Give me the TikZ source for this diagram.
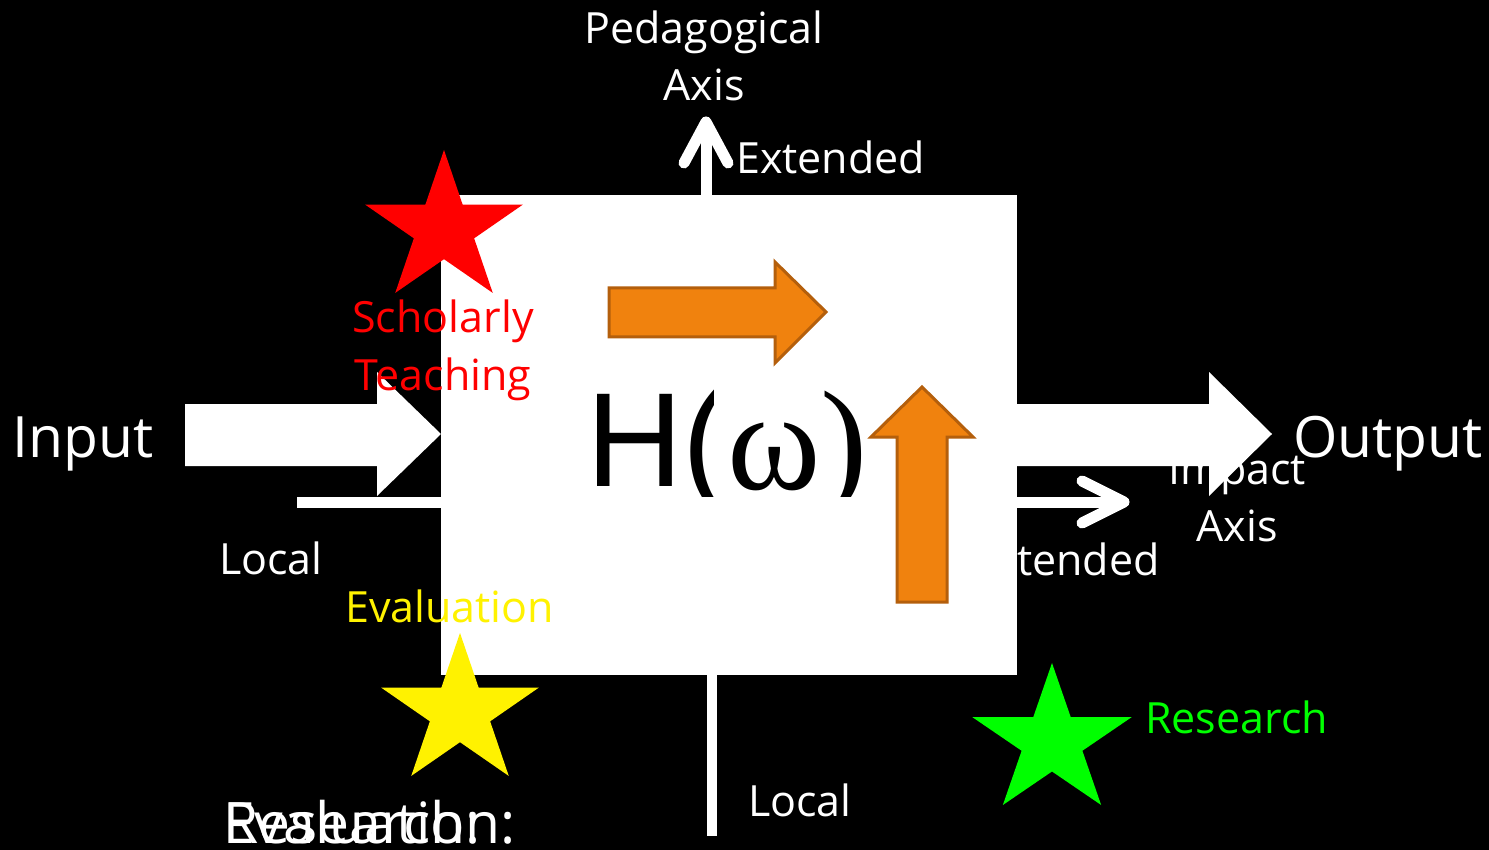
\documentclass[tikz,border=0pt]{standalone}
\usepackage{fontspec}
\setmainfont{Open Sans}
\newfontfamily\hsans{Liberation Sans}
\newfontfamily\wserif{Liberation Serif}
\definecolor{orfill}{RGB}{240,130,14}
\definecolor{ordraw}{RGB}{180,95,12}
\newcommand\mystarshape[5]{%
  \fill[#1, shift={(#2,#3)}, xscale=#5] (270:#4)
    \foreach \i in {1,...,9} { -- ({270+36*\i}:{mod(\i,2)==1 ? 0.382*#4 : #4}) } -- cycle;}
\begin{document}
\begin{tikzpicture}[x=1pt,y=-1pt,
  lbl/.style={text=white, font=\fontsize{43}{57}\selectfont, inner sep=0pt},
  big/.style={text=white, font=\fontsize{57}{68}\selectfont, inner sep=0pt},
  wline/.style={draw=white, line width=11pt},
  chev/.style={draw=white, line width=11pt, line cap=round, line join=round},
  orarrow/.style={fill=orfill, draw=ordraw, line width=3pt}]
\fill[black] (0,0) rectangle (1489,850);
\useasboundingbox (0,0) rectangle (1489,850);

% texts lying under shapes
\node[lbl, anchor=base east] (extR) at (1160,575) {Extended};
\node[lbl, anchor=base] (imp) at (1237,484) {Impact};
\node[lbl, anchor=base] (impaxis) at (1237,541) {Axis};

% input arrow and left line
\fill[white] (185,404) -- (377,404) -- (377,372) -- (441,434) -- (377,496) -- (377,466) -- (185,466) -- cycle;
\coordinate (lstart) at (297,502);

% white box
\node[fill=white, minimum width=576pt, minimum height=480pt, inner sep=0pt, anchor=north west] (box) at (441,195) {};
\draw[wline] (lstart) -- (lstart -| box.west);

% output arrow
\fill[white] (1017,404) -- (1209,404) -- (1209,372) -- (1272,434) -- (1209,496) -- (1209,466) -- (1017,466) -- cycle;

% top axis arrow
\coordinate (ttip) at (706,122);
\draw[wline] (ttip |- box.north) -- (ttip);
\draw[chev] (684,163) -- (ttip) -- (728,163);

% right axis arrow
\coordinate (rtip) at (1124,502);
\draw[wline] (rtip -| box.east) -- (rtip);
\draw[chev] (1082,481) -- (rtip) -- (1082,523);

% bottom line
\coordinate (bend) at (712,836);
\draw[draw=white, line width=10pt] (bend |- box.south) -- (bend);

% stars
\mystarshape{red}{444}{229}{79}{1.05}
\mystarshape{yellow}{460}{712}{79}{1.05}
\mystarshape{green}{1052}{741.5}{78.5}{1.065}

% H(omega)
\begin{scope}
\clip (560,380) rectangle (866,496);
\node[anchor=base west, inner sep=0pt, font=\hsans\fontsize{134}{134}\selectfont] (H) at (586,486) {H(};
\fill[white] (714,380) rectangle (866,496);
\node[anchor=base west, inner sep=0pt, font=\wserif\fontsize{142}{142}\selectfont] (w) at (727,489) {ω)};
\end{scope}

% orange arrows
\draw[orarrow] (609,288) -- (775,288) -- (775,262) -- (826,312) -- (775,363) -- (775,337) -- (609,337) -- cycle;
\draw[orarrow] (897,602) -- (897,437) -- (871,437) -- (922,387) -- (973,437) -- (947,437) -- (947,602) -- cycle;

% labels
\node[lbl, anchor=base] (ped) at (704,44) {Pedagogical};
\node[lbl, anchor=base] (pedaxis) at (704,101) {Axis};
\node[lbl, anchor=base west] (extT) at (736,174) {Extended};
\node[big, anchor=base west] (inp) at (12,457) {Input};
\node[big, anchor=base west] (outp) at (1293,457) {Output};
\node[lbl, anchor=base, text=red] (schol) at (443,333) {Scholarly};
\node[lbl, anchor=base, text=red] (teach) at (443,390) {Teaching};
\node[lbl, anchor=base west] (locL) at (219,574) {Local};
\node[lbl, anchor=base west, text=yellow] (eval) at (345,622) {Evaluation};
\node[lbl, anchor=base west, text=green] (res) at (1145,733) {Research};
\node[lbl, anchor=base west] (locB) at (748,816) {Local};
\node[big, anchor=base west] (resB) at (223,843) {Research:};
\node[big, anchor=base west] (evalB) at (223,843) {Evaluation:};
\end{tikzpicture}
\end{document}
